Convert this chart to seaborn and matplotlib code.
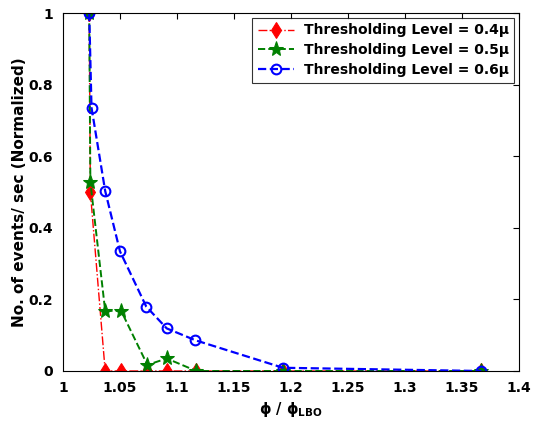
import matplotlib
matplotlib.use("Agg")
import matplotlib.pyplot as plt
import seaborn as sns
import pandas as pd

x_04 = [1.023, 1.024, 1.037, 1.051, 1.074, 1.091, 1.117, 1.193, 1.367]
y_04 = [1.0, 0.50, 0.0, 0.0, 0.0, 0.0, 0.0, 0.0, 0.0]
x_05 = [1.023, 1.024, 1.037, 1.051, 1.074, 1.091, 1.117, 1.193, 1.367]
y_05 = [1.0, 0.528, 0.168, 0.168, 0.017, 0.035, 0.0, 0.0, 0.0]
x_06 = [1.023, 1.025, 1.037, 1.050, 1.073, 1.091, 1.116, 1.193, 1.367]
y_06 = [1.0, 0.736, 0.503, 0.334, 0.18, 0.119, 0.086, 0.009, 0.0]
labels = ["Thresholding Level = 0.4\u03bc", "Thresholding Level = 0.5\u03bc", "Thresholding Level = 0.6\u03bc"]
xticks = [1, 1.05, 1.1, 1.15, 1.2, 1.25, 1.3, 1.35, 1.4]
yticks = [0, 0.2, 0.4, 0.6, 0.8, 1]

sns.set_style("white")
plt.rcParams['font.family'] = ['DejaVu Sans']
plt.rcParams['font.weight'] = 'bold'
plt.rcParams['text.color'] = 'black'
plt.rcParams['axes.labelcolor'] = 'black'
plt.rcParams['xtick.color'] = 'black'
plt.rcParams['ytick.color'] = 'black'
plt.rcParams['mathtext.fontset'] = 'custom'
plt.rcParams['mathtext.rm'] = 'DejaVu Sans:bold'
plt.rcParams['mathtext.it'] = 'DejaVu Sans:bold'
plt.rcParams['mathtext.bf'] = 'DejaVu Sans:bold'

fig = plt.figure(figsize=(5.34, 4.21), dpi=100)
ax = fig.add_axes([63/534, 1-371/421, (519-63)/534, (371-13)/421])

styles = [
    dict(color='red', linestyle='-.', linewidth=1.0, marker='d', markersize=8, markerfacecolor='red', markeredgecolor='red'),
    dict(color='green', linestyle='--', linewidth=1.4, marker='*', markersize=11, markerfacecolor='green', markeredgecolor='green'),
    dict(color='blue', linestyle='--', linewidth=1.6, marker='o', markersize=7, markerfacecolor='none', markeredgecolor='blue', markeredgewidth=1.5),
]
series = [(x_04, y_04), (x_05, y_05), (x_06, y_06)]
for (xs, ys), lab, st in zip(series, labels, styles):
    df = pd.DataFrame({'x': xs, 'y': ys})
    sns.lineplot(data=df, x='x', y='y', ax=ax, sort=False, estimator=None, label=lab, **st)

ax.set_xlim(1, 1.4)
ax.set_ylim(0, 1)
ax.set_xticks(xticks)
ax.set_xticklabels([f"{t:g}" for t in xticks])
ax.set_yticks(yticks)
ax.set_yticklabels([f"{t:g}" for t in yticks])
ax.tick_params(direction='in', length=4, labelsize=10, top=True, right=True, width=0.8, pad=7)
for lab in ax.get_xticklabels() + ax.get_yticklabels():
    lab.set_fontweight('bold')
for sp in ax.spines.values():
    sp.set_color('black')
    sp.set_linewidth(0.8)
ax.set_xlabel(r'$\phi$ / $\phi_{\mathrm{LBO}}$', fontsize=10.5, fontweight='bold', labelpad=4)
ax.set_ylabel('No. of events/ sec (Normalized)', fontsize=11, fontweight='bold', labelpad=1)
leg = ax.legend(loc='upper right', fontsize=10, frameon=True, fancybox=False, edgecolor='black',
                borderaxespad=0.35, handlelength=2.6, borderpad=0.4, labelspacing=0.42, handletextpad=0.7)
leg.get_frame().set_linewidth(0.8)
for t in leg.get_texts():
    t.set_fontweight('bold')
fig.savefig('out.png', dpi=100)
